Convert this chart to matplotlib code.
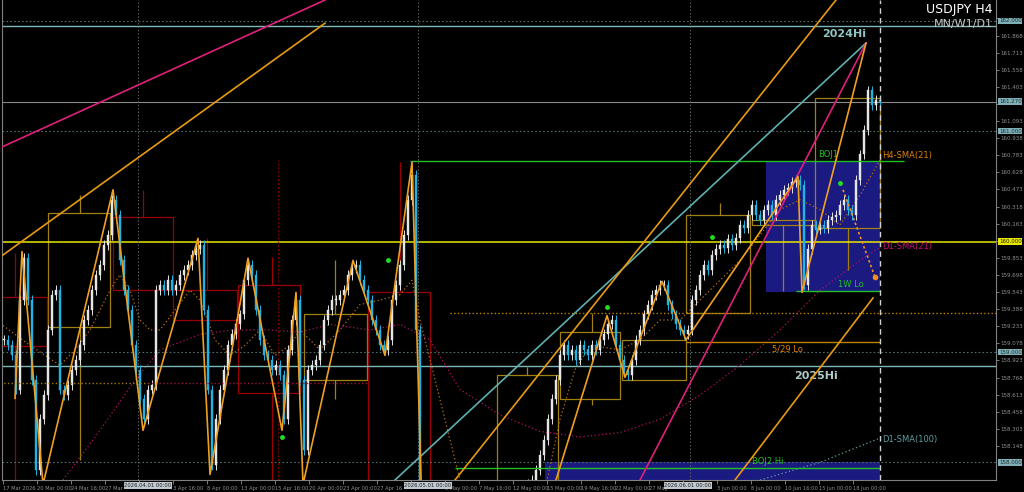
import numpy as np
import matplotlib
matplotlib.use("Agg")
import matplotlib.pyplot as plt
from matplotlib.patches import Rectangle

# closes of H4 candles (one candle per two bars of the reference)
closes = [
    159.11, 159.06, 158.97, 158.66, 159.47, 159.85, 159.47, 158.75, 157.93, 158.39,
    158.61, 159.20, 159.52, 159.56, 158.66, 158.61, 158.70, 158.84, 158.93, 159.06,
    159.29, 159.38, 159.56, 159.70, 159.79, 159.97, 160.06, 160.38, 160.24, 159.83,
    159.56, 159.38, 159.06, 158.84, 158.57, 158.39, 158.66, 158.70, 159.56, 159.61,
    159.56, 159.65, 159.56, 159.61, 159.70, 159.74, 159.79, 159.88, 159.93, 159.97,
    159.38, 158.66, 157.98, 158.39, 158.66, 158.84, 159.06, 159.16, 159.25, 159.34,
    159.65, 159.79, 159.70, 159.38, 159.11, 158.97, 158.93, 158.84, 158.88, 158.79,
    158.39, 159.02, 159.29, 159.47, 158.75, 158.11, 158.84, 158.88, 158.93, 159.06,
    159.29, 159.38, 159.47, 159.47, 159.52, 159.56, 159.70, 159.76, 159.79, 159.65,
    159.56, 159.47, 159.29, 159.20, 159.06, 159.02, 159.11, 159.47, 159.61, 159.79,
    160.06, 160.38, 160.60, 159.20, 157.66,
    157.40, 157.25, 157.10, 157.30, 157.45, 157.20, 157.05, 157.15, 157.35, 157.50,
    157.40, 157.20, 157.30, 157.45, 157.55, 157.35, 157.25, 157.40, 157.60, 157.50,
    157.45, 157.65, 157.55, 157.70, 157.60, 157.75, 157.80,
    157.84, 157.93, 158.07, 158.20, 158.39, 158.57, 158.75, 158.97, 159.06, 158.97,
    159.02, 158.93, 159.06, 159.02, 158.97, 159.06, 159.02, 159.11, 159.16, 159.25,
    159.29, 159.06, 158.93, 158.84, 158.79, 158.93, 159.11, 159.20, 159.34, 159.43,
    159.52, 159.56, 159.61, 159.61, 159.43, 159.34, 159.25, 159.20, 159.16, 159.20,
    159.47, 159.56, 159.70, 159.79, 159.74, 159.88, 159.93, 159.97, 159.94, 160.02,
    159.97, 160.03, 160.15, 160.12, 160.24, 160.33, 160.24, 160.20, 160.29, 160.33,
    160.24, 160.38, 160.42, 160.47, 160.49, 160.54, 160.56, 160.51, 159.61, 159.93,
    160.15, 160.11, 160.15, 160.12, 160.20, 160.22, 160.24, 160.33, 160.38, 160.29,
    160.24, 160.56, 160.79, 161.01, 161.37, 161.24, 161.28, 161.27,
]

# horizontal levels
lvl_2024hi = 161.95
lvl_2025hi = 158.87
lvl_now = 161.27
lvl_yellow = 160.00
round_lvls = [162.00, 161.00, 159.00, 158.00]
# (price, bar from, bar to, colour, style)
part_lvls = [
    (160.73, 101.5, 225, "#22c022", "-"),     # BOJ1
    (159.55, 198, 219, "#22c022", "-"),       # 1W Lo
    (159.35, 111.5, 248.5, "#c08000", ":"),
    (159.09, 170.5, 219, "#c08000", "-"),     # 5/29 Lo
    (157.95, 112.75, 219, "#22c022", "-"),    # BOJ2 Hi
    (158.72, -1, 36, "#a07800", ":"),
    (158.72, 36, 91, "#a01040", ":"),
]

# trend lines: (bar0, price0, bar1, price1, colour)
trend_lines = [
    (-1, 160.85, 80.25, 162.19, "#e0207a"),
    (-1, 159.86, 80.25, 161.98, "#e89a10"),
    (97.75, 157.84, 215.5, 161.80, "#5fb0b0"),
    (112.75, 157.84, 208, 162.19, "#e89a10"),
    (159, 157.84, 215.5, 161.80, "#e0207a"),
    (182.75, 157.84, 217.25, 159.49, "#e89a10"),
]

zz_bars = [2.75, 4.5, 9.75, 27.25, 34.75, 48.5, 51.5, 61, 69.5, 73, 74.75, 87.25, 95.25, 102,
           105, 113, 130.8, 150.75, 155.25, 164.5, 170.5, 198.5, 199.5, 215.5]
zz_prices = [158.58, 159.91, 157.80, 160.47, 158.29, 160.03, 157.89, 159.85, 158.29, 159.54,
             157.80, 159.83, 158.97, 160.72, 156.90, 157.75, 157.00, 159.33, 158.77, 159.64,
             159.11, 160.59, 159.54, 161.80]

proj_bars = [209.75, 217.75]
proj_prices = [160.47, 159.68]

dot_bars = [69.5, 96, 150.75, 177, 209]
dot_prices = [158.23, 159.83, 159.41, 160.04, 160.53]

h4_sma_bars = [-1, 6.5, 10.25, 14, 17.75, 21.5, 24, 26.5, 29, 31.5, 34, 36.5, 39, 42.75, 46.5,
               49, 52.75, 56.5, 60.25, 64, 67.75, 71.5, 74, 79, 84, 89, 94, 99, 102, 104, 109,
               114, 119, 129, 135.25, 139, 142.75, 146.5, 154, 159, 164, 169, 174, 179, 184,
               189, 194, 199, 204, 209, 214, 219]
h4_sma = [159.26, 159.06, 158.97, 158.88, 159.02, 159.20, 159.38, 159.56, 159.70, 159.56,
          159.29, 159.20, 159.20, 159.38, 159.56, 159.47, 159.11, 158.97, 159.06, 159.20,
          158.97, 159.06, 159.20, 159.02, 159.20, 159.43, 159.47, 159.52, 159.65, 159.29,
          158.57, 157.84, 157.30, 157.12, 157.75, 158.39, 158.84, 159.06, 159.02, 159.11,
          159.29, 159.29, 159.47, 159.65, 159.83, 160.06, 160.29, 160.38, 160.29, 160.15,
          160.42, 160.74]

d1_sma21_bars = [14.75, 24, 32.25, 39, 49, 57.25, 66.5, 74, 81.5, 91.5, 99, 106.5, 114, 124,
                 134, 144, 154, 164, 174, 184, 194, 204, 214, 219]
d1_sma21 = [157.84, 158.29, 158.72, 159.02, 159.16, 159.20, 159.20, 159.18, 159.25, 159.20,
            159.25, 159.11, 158.66, 158.43, 158.28, 158.23, 158.27, 158.39, 158.61, 158.88,
            159.20, 159.56, 159.83, 159.95]

d1_sma100_bars = [189, 204, 219]
d1_sma100 = [157.84, 158.00, 158.22]

# weekly range boxes (bar0, bar1, low, high) and whiskers (bar, low, high)
gold_boxes = [(11, 26.5, 159.23, 160.26), (75, 90.75, 158.75, 159.34), (123.25, 138.5, 157.5, 158.79),
              (139, 154, 158.57, 159.18), (154.5, 170.5, 158.75, 159.11), (170.5, 186.5, 159.35, 160.24),
              (187, 202.75, 160.15, 160.20), (202.75, 219, 160.12, 161.30)]
gold_wicks = [(19, 160.26, 160.42), (19, 158.02, 159.23), (82.75, 159.34, 159.83), (82.75, 158.57, 158.75),
              (130.75, 158.79, 158.86), (147, 159.18, 159.35), (147, 158.52, 158.57),
              (179, 160.24, 160.35), (194.75, 159.55, 160.15), (211, 159.74, 160.12)]
red_boxes = [(-1, 10.75, 159.05, 159.50), (27.25, 42.25, 159.56, 160.22), (42.25, 58.25, 159.29, 159.56),
             (58.5, 74, 158.63, 159.61), (91, 106.5, 157.5, 159.54)]
red_wicks = [(2.75, 159.50, 159.90), (2.75, 157.5, 159.05), (34.75, 160.22, 160.47),
             (50.75, 159.56, 160.03), (67, 159.61, 159.86), (67, 157.5, 158.63), (99, 159.54, 160.72)]

blue_boxes = [(190.5, 219, 159.545, 160.73), (135.25, 219, 157.5, 158.00)]

month_seps = [33.5, 103.5, 171.5]
month_tag_pos = [36, 106, 171]
month_labels = ["2026.04.01 00:00", "2026.05.01 00:00", "2026.06.01 00:00"]

# labels partly hidden by the month tags keep only their visible part
x_labels = ["17 Mar 2026", "20 Mar 00:00", "24 Mar 16:00", "27 Mar", "", "3 Apr 16:00",
            "8 Apr 00:00", "13 Apr 00:00", "15 Apr 16:00", "20 Apr 00:00", "23 Apr 00:00",
            "27 Apr 16", "", "5 May 00:00", "7 May 16:00", "12 May 00:00", "15 May 00:00",
            "19 May 16:00", "22 May 00:00", "27 May", "", "3 Jun 00:00", "8 Jun 00:00",
            "10 Jun 16:00", "15 Jun 00:00", "18 Jun 00:00"]

now_bar = 219

# ---------------------------------------------------------------
fig = plt.figure(figsize=(10.24, 4.92), dpi=100, facecolor="black")
ax = fig.add_axes([2 / 1024, 12 / 492, 994 / 1024, 480 / 492])
ax.set_facecolor("black")
ax.set_xlim(-0.5, 248)
ax.set_ylim(157.84, 162.19)

# levels
for p in round_lvls:
    ax.axhline(p, color="#4f6f6f", lw=0.8, ls=(0, (1.5, 2)))
ax.axhline(lvl_2024hi, color="#7fb8b8", lw=1.0)
ax.axhline(lvl_2025hi, color="#7fb8b8", lw=1.0)
ax.axhline(lvl_now, color="#8a8a8a", lw=0.8)
ax.axhline(lvl_yellow, color="#e6e600", lw=1.1)

for b in month_seps:
    ax.axvline(b, color="#606060", lw=0.7, ls=(0, (1.5, 2)))
ax.vlines(68.5, 157.84, 160.74, color="#8b0000", lw=0.8, ls=(0, (1.5, 2)))

# blue zones
for b0, b1, lo, hi in blue_boxes:
    ax.add_patch(Rectangle((b0, lo), b1 - b0, hi - lo, fc="#1a1a80", ec="none", zorder=0.5))

# range boxes
for b0, b1, lo, hi in gold_boxes:
    ax.add_patch(Rectangle((b0, lo), b1 - b0, hi - lo, fill=False, ec="#a08010", lw=0.9, zorder=1))
for b, lo, hi in gold_wicks:
    ax.vlines(b, lo, hi, color="#a08010", lw=0.9, zorder=1)
for b0, b1, lo, hi in red_boxes:
    ax.add_patch(Rectangle((b0, lo), b1 - b0, hi - lo, fill=False, ec="#9a0000", lw=0.9, zorder=1))
for b, lo, hi in red_wicks:
    ax.vlines(b, lo, hi, color="#9a0000", lw=0.9, zorder=1)

# moving averages
ax.plot(h4_sma_bars, h4_sma, color="#c07000", lw=0.9, ls=(0, (1, 2)), zorder=2)
ax.plot(d1_sma21_bars, d1_sma21, color="#b01060", lw=0.9, ls=(0, (1, 2)), zorder=2)
ax.plot(d1_sma100_bars, d1_sma100, color="#5f9ea0", lw=0.9, ls=(0, (1, 2)), zorder=2)

# candles
c = np.array(closes)
o = np.r_[c[0], c[:-1]]
x = np.arange(len(c))
hi = np.maximum(o, c) + 0.045
lo = np.minimum(o, c) - 0.045
up = c >= o
col = np.where(up, "#e6e6e6", "#1eb4e6")
ax.vlines(x, lo, hi, colors=col, lw=0.7, zorder=3)
ax.bar(x, np.maximum(np.abs(c - o), 0.01), bottom=np.minimum(o, c), width=0.6,
       color=col, edgecolor=col, lw=0.3, zorder=3)

# partial levels
for p, b0, b1, colr, ls in part_lvls:
    ax.hlines(p, b0, b1, color=colr, lw=1.0, ls=ls, zorder=4)

# trend lines and zigzag
for b0, p0, b1, p1, colr in trend_lines:
    ax.plot([b0, b1], [p0, p1], color=colr, lw=1.2, zorder=4)
ax.plot(zz_bars, zz_prices, color="#f0a020", lw=1.2, zorder=5)
ax.plot(proj_bars, proj_prices, color="#f09020", lw=1.2, ls=(0, (1.5, 1.5)), zorder=5)
ax.plot(proj_bars[-1], proj_prices[-1], "o", color="#f09020", ms=3, zorder=5)
ax.plot(dot_bars, dot_prices, "o", color="#22dd22", ms=2.5, ls="none", zorder=6)

ax.axvline(now_bar, color="#d0d0d0", lw=1.0, ls=(0, (4, 3)), zorder=6)

# texts on chart
ax.text(215.5, lvl_2024hi - 0.02, "2024Hi", color="#8fc4c4", fontsize=8, fontweight="bold",
        ha="right", va="top")
ax.text(208.5, lvl_2025hi - 0.04, "2025Hi", color="#b0c8c8", fontsize=8, fontweight="bold",
        ha="right", va="top")
ax.text(203.5, 160.75, "BOJ1", color="#22c022", fontsize=6, va="bottom")
ax.text(208.5, 159.57, "1W Lo", color="#22c022", fontsize=6, va="bottom")
ax.text(192, 159.07, "5/29 Lo", color="#e08000", fontsize=6, va="top")
ax.text(187, 157.97, "BOJ2 Hi", color="#22c022", fontsize=6, va="bottom")
ax.text(219.5, 160.78, "H4-SMA(21)", color="#e08000", fontsize=6, va="center")
ax.text(219.5, 159.96, "D1-SMA(21)", color="#c8107a", fontsize=6, va="center")
ax.text(219.5, 158.21, "D1-SMA(100)", color="#5f9ea0", fontsize=6, va="center")

fig.text(993 / 1024, 1 - 10 / 492, "USDJPY H4", color="white", fontsize=9, ha="right", va="center")
fig.text(993 / 1024, 1 - 24 / 492, "MN/W1/D1", color="#c8c8c8", fontsize=8, ha="right", va="center")

# price scale
tags = round_lvls + [lvl_now, lvl_yellow]
ax.yaxis.tick_right()
yt = [158.148 + 0.155 * k for k in range(26)]
ax.set_yticks(yt)
ax.set_yticklabels(["" if min(abs(v - t) for t in tags) < 0.05 else f"{v:.3f}" for v in yt])
ax.tick_params(axis="y", colors="#909090", labelsize=4, length=2, width=0.6, pad=1)
tag_trans = ax.get_yaxis_transform()
for p in round_lvls + [lvl_now]:
    ax.text(1.003, p, f"{p:.3f}", transform=tag_trans, fontsize=4, color="#1a2a2a",
            va="center", ha="left", clip_on=False, zorder=10,
            bbox=dict(fc="#7fb0b8", ec="none", pad=0.5))
ax.text(1.003, lvl_yellow, f"{lvl_yellow:.3f}", transform=tag_trans, fontsize=4, color="#202000",
        va="center", ha="left", clip_on=False, zorder=10, bbox=dict(fc="#e6e600", ec="none", pad=0.5))

# time scale
xt = [-0.25 + 8.5 * k for k in range(len(x_labels))]
ax.set_xticks(xt)
ax.set_xticklabels(x_labels, ha="left")
ax.tick_params(axis="x", colors="#909090", labelsize=3.7, length=3, width=0.6, pad=1)
for b, lab in zip(month_tag_pos, month_labels):
    ax.text(b, -0.006, lab, transform=ax.get_xaxis_transform(), fontsize=3.8, color="#202020",
            ha="center", va="top", clip_on=False, zorder=10,
            bbox=dict(fc="#c0c8d0", ec="none", pad=0.5))

for s in ["left", "right", "bottom"]:
    ax.spines[s].set_color("#808080")
    ax.spines[s].set_linewidth(0.8)
ax.spines["top"].set_visible(False)

fig.savefig("out.png", dpi=100, facecolor="black")
